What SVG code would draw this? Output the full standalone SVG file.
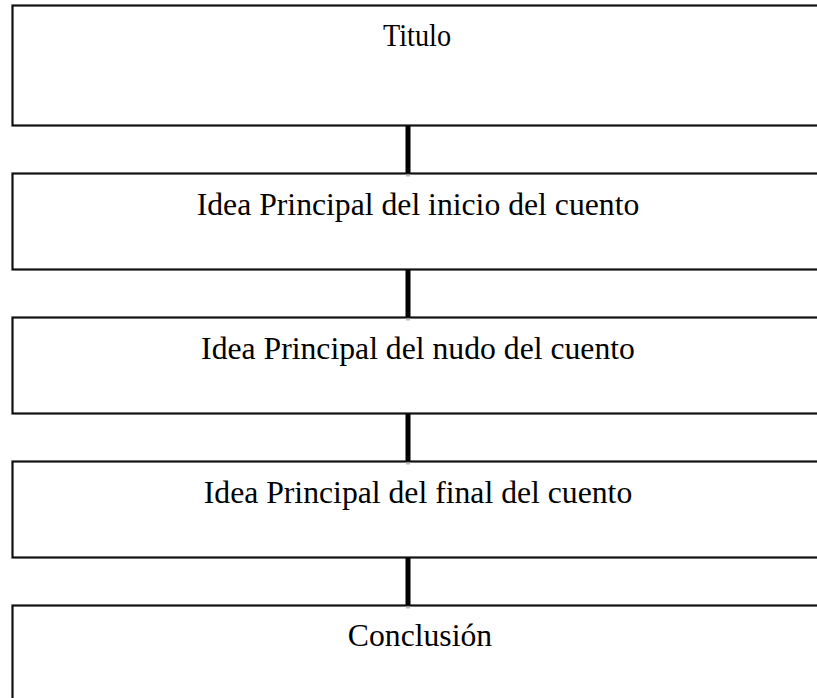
<svg xmlns="http://www.w3.org/2000/svg" width="817" height="698" viewBox="0 0 817 698">
<style>
.box{fill:#fff;stroke:#111;stroke-width:2.2}
.lbl{font-family:"Liberation Serif","Times New Roman",serif;font-size:31.7px;fill:#000;text-anchor:middle}
.con{fill:#000}
.tip{fill:#bbb}
</style>
<rect width="817" height="698" fill="#fff"/>
<g id="n1"><rect class="box" x="12.5" y="5.5" width="820" height="120"/><text class="lbl" x="417" y="46" textLength="68" lengthAdjust="spacingAndGlyphs">Titulo</text></g>
<g id="n2"><rect class="box" x="12.5" y="173.5" width="820" height="96"/><text class="lbl" x="418" y="214.5">Idea Principal del inicio del cuento</text></g>
<g id="n3"><rect class="box" x="12.5" y="317.5" width="820" height="96"/><text class="lbl" x="418" y="358.5">Idea Principal del nudo del cuento</text></g>
<g id="n4"><rect class="box" x="12.5" y="461.5" width="820" height="96"/><text class="lbl" x="418" y="502.5">Idea Principal del final del cuento</text></g>
<g id="n5"><rect class="box" x="12.5" y="605.5" width="820" height="120"/><text class="lbl" x="420" y="646">Conclusión</text></g>
<g id="connectors">
<rect class="con" x="405.5" y="126" width="5" height="47"/>
<rect class="tip" x="406" y="174.5" width="4" height="2"/>
<rect class="con" x="405.5" y="270" width="5" height="47"/>
<rect class="tip" x="406" y="318.5" width="4" height="2"/>
<rect class="con" x="405.5" y="414" width="5" height="47"/>
<rect class="tip" x="406" y="462.5" width="4" height="2"/>
<rect class="con" x="405.5" y="558" width="5" height="47"/>
<rect class="tip" x="406" y="606.5" width="4" height="2"/>
</g>
</svg>
